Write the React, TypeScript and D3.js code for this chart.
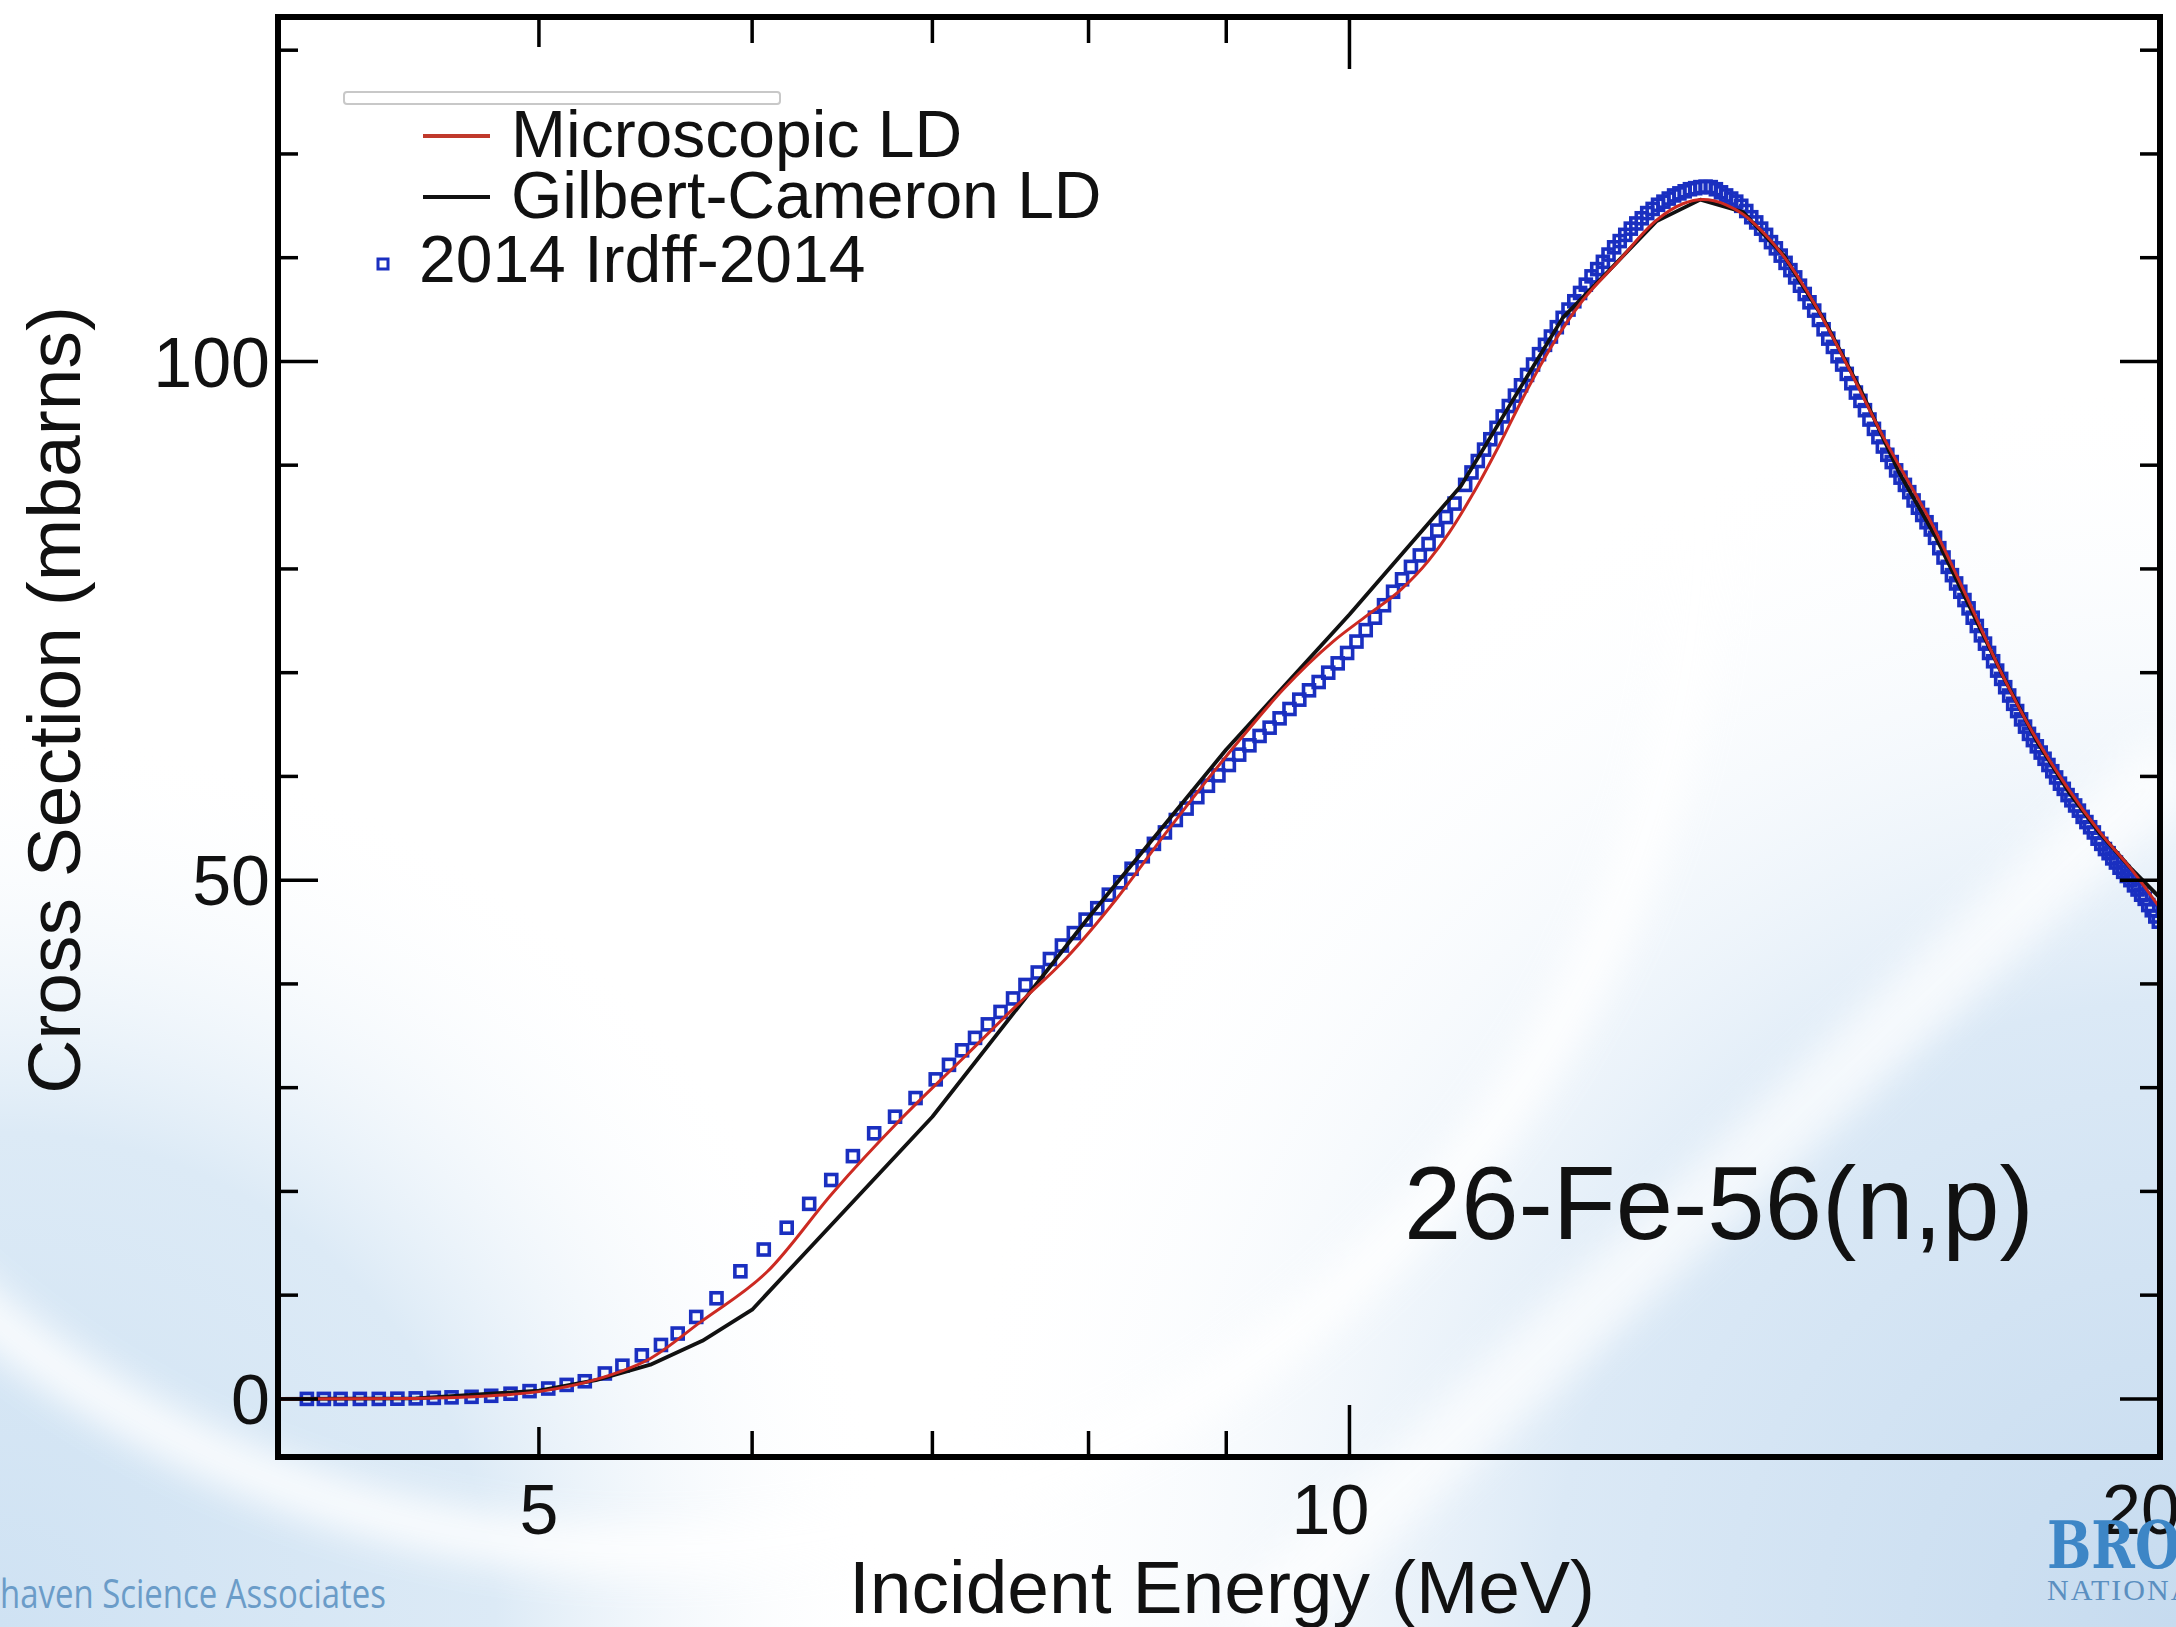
import * as d3 from 'd3'

const W = 2176
const H = 1627

// 2014 IRDFF evaluation (square markers), energies in MeV
const irdffE = [
  4.10, 4.16, 4.22, 4.29, 4.36, 4.43, 4.50, 4.57, 4.64, 4.72, 4.80, 4.88, 4.96, 5.04, 5.12, 5.20,
  5.29, 5.37, 5.46, 5.55, 5.63, 5.72, 5.82, 5.94, 6.06, 6.18, 6.30, 6.42, 6.54, 6.66, 6.78, 6.90,
  7.02, 7.10, 7.18, 7.26, 7.34, 7.42, 7.50, 7.58, 7.66, 7.74, 7.82, 7.90, 7.98, 8.06, 8.14, 8.22,
  8.30, 8.38, 8.46, 8.54, 8.62, 8.70, 8.78, 8.86, 8.94, 9.02, 9.10, 9.18, 9.26, 9.34, 9.42, 9.50,
  9.58, 9.66, 9.74, 9.82, 9.90, 9.98, 10.06, 10.14, 10.22, 10.30, 10.38, 10.46, 10.54, 10.62, 10.70,
  10.78, 10.86, 10.94,
  11.04, 11.10, 11.16, 11.22, 11.28, 11.34, 11.40, 11.46, 11.52, 11.58, 11.64, 11.70, 11.76, 11.82,
  11.88, 11.94, 12.00, 12.06, 12.12, 12.18, 12.24, 12.30, 12.36, 12.42, 12.48, 12.54, 12.60, 12.66,
  12.72, 12.78, 12.84, 12.90, 12.96, 13.02, 13.08, 13.14, 13.20, 13.26, 13.32, 13.38, 13.44,
  13.50, 13.56, 13.62, 13.68, 13.74, 13.80, 13.86, 13.92, 13.98, 14.04, 14.10, 14.16, 14.22, 14.28,
  14.34, 14.40, 14.46, 14.52, 14.58, 14.64, 14.70, 14.76, 14.82, 14.88, 14.94, 15.00, 15.06, 15.12,
  15.18, 15.24, 15.30, 15.36, 15.42, 15.48, 15.54, 15.60, 15.66, 15.72, 15.78, 15.84, 15.90, 15.96,
  16.02, 16.08, 16.14, 16.20, 16.26, 16.32, 16.38, 16.44, 16.50, 16.56, 16.62, 16.68, 16.74, 16.80,
  16.86, 16.92, 16.98, 17.04, 17.10, 17.16, 17.22, 17.28, 17.34, 17.40, 17.46, 17.52, 17.58, 17.64,
  17.70, 17.76, 17.82, 17.88, 17.94, 18.00, 18.06, 18.12, 18.18, 18.24, 18.30, 18.36, 18.42, 18.48,
  18.54, 18.60, 18.66, 18.72, 18.78, 18.84, 18.90, 18.96, 19.02, 19.08, 19.14, 19.20, 19.26, 19.32,
  19.38, 19.44, 19.50, 19.56, 19.62, 19.68, 19.74, 19.80, 19.86, 19.92, 19.98,
]
const irdffXS = [
  0.0, 0.0, 0.0, 0.0, 0.0, 0.02, 0.05, 0.1, 0.15, 0.2, 0.3, 0.5, 0.75, 1.0, 1.35, 1.7,
  2.45, 3.2, 4.2, 5.2, 6.3, 7.9, 9.7, 12.3, 14.4, 16.5, 18.8, 21.1, 23.4, 25.6, 27.2, 29.0,
  30.8, 32.2, 33.6, 34.8, 36.1, 37.3, 38.6, 39.9, 41.1, 42.4, 43.7, 44.9, 46.2, 47.3, 48.6, 49.8,
  51.1, 52.3, 53.5, 54.6, 55.8, 56.9, 58.0, 59.1, 60.1, 61.1, 62.1, 63.0, 63.9, 64.7, 65.6, 66.5,
  67.4, 68.3, 69.1, 70.0, 70.9, 71.9, 73.0, 74.1, 75.3, 76.5, 77.8, 79.0, 80.2, 81.3, 82.4,
  83.7, 85.0, 86.3,
  88.1, 89.3, 90.4, 91.5, 92.5, 93.6, 94.7, 95.7, 96.7, 97.7, 98.7, 99.7, 100.7, 101.6,
  102.4, 103.3, 104.2, 105.0, 105.8, 106.6, 107.4, 108.2, 108.9, 109.6, 110.3, 111.0, 111.6, 112.2,
  112.8, 113.3, 113.8, 114.3, 114.7, 115.1, 115.4, 115.7, 116.0, 116.2, 116.4, 116.6, 116.7,
  116.8, 116.85, 116.8, 116.6, 116.3, 116.0, 115.7, 115.4, 115.0, 114.5, 113.9, 113.4, 112.8, 112.2,
  111.5, 110.9, 110.2, 109.5, 108.8, 108.1, 107.3, 106.5, 105.7, 104.9, 104.0, 103.1, 102.2, 101.4,
  100.5, 99.7, 98.8, 97.9, 97.0, 96.2, 95.3, 94.4, 93.5, 92.7, 91.8, 91.0, 90.3, 89.5,
  88.8, 88.1, 87.4, 86.6, 85.9, 85.2, 84.5, 83.8, 83.0, 82.0, 81.1, 80.2, 79.4, 78.6,
  77.8, 77.0, 76.2, 75.3, 74.5, 73.6, 72.8, 71.9, 71.1, 70.2, 69.4, 68.6, 67.8, 67.0,
  66.3, 65.5, 64.8, 64.1, 63.5, 62.9, 62.3, 61.7, 61.1, 60.5, 59.9, 59.3, 58.8, 58.2,
  57.7, 57.2, 56.7, 56.1, 55.6, 55.1, 54.6, 54.0, 53.5, 53.0, 52.6, 52.1, 51.7, 51.2,
  50.8, 50.4, 50.0, 49.5, 49.1, 48.6, 48.2, 47.6, 47.1, 46.5, 46.0,
]

// Microscopic level density (red)
const microE = [
  4.0, 4.5, 4.8, 5.0, 5.27, 5.5, 5.74, 6.08, 6.43, 6.81, 7.21, 7.5, 7.85, 8.2, 8.55, 8.85, 9.11,
  9.45, 9.86, 10.15, 10.45, 10.7, 10.89, 11.1, 11.37, 11.6, 11.87, 12.2, 12.58, 13.0, 13.3, 13.53,
  13.8, 14.0, 14.25, 14.48, 14.88, 15.33, 15.78, 16.48, 16.96, 17.44, 17.94, 18.47, 19.0, 19.55, 20.0,
]
const microXS = [
  0.0, 0.05, 0.3, 0.7, 2.0, 3.9, 7.4, 12.3, 19.9, 26.9, 33.2, 37.6, 42.5, 48.3, 54.6, 59.6, 63.6,
  68.4, 73.0, 75.5, 78.0, 80.8, 83.5, 87.0, 92.0, 96.5, 101.2, 105.8, 109.6, 113.6, 115.2, 115.6,
  115.1, 114.2, 112.4, 110.3, 105.6, 99.3, 92.8, 84.0, 77.2, 70.3, 64.2, 59.0, 54.6, 50.8, 47.3,
]

// Gilbert-Cameron level density (black)
const gcE = [
  4.0, 4.5, 5.0, 5.25, 5.5, 5.75, 6.0, 7.0, 8.0, 9.0, 10.0, 11.0, 12.0, 12.5, 13.0, 13.5, 14.0,
  14.5, 15.0, 15.5, 16.0, 16.5, 17.0, 17.5, 18.0, 18.5, 19.0, 19.5, 20.0,
]
const gcXS = [
  0.0, 0.05, 0.8, 1.8, 3.3, 5.6, 8.6, 27.2, 46.4, 62.6, 75.6, 88.0, 104.2, 108.9, 113.5, 115.6, 114.4,
  110.2, 104.1, 97.0, 89.3, 83.2, 76.3, 69.5, 63.4, 58.5, 54.5, 51.2, 48.3,
]

const xMajorTicks = [5, 10, 20]
const xMinorTicks = [6, 7, 8, 9]
const yMajorTicks = [0, 50, 100]
const yMinorTicks = [10, 20, 30, 40, 60, 70, 80, 90, 110, 120, 130]
const xTickLabels = ['5', '10', '20']

const legendLabels = ['Microscopic LD', 'Gilbert-Cameron LD', '2014 Irdff-2014']

const FONT = '"Liberation Sans", Arial, Helvetica, sans-serif'

export default function App() {
  const left = 278
  const right = 2160
  const top = 17
  const bottom = 1457

  const x = d3.scaleLog().domain([4, 20]).range([left, right])
  const y = d3.scaleLinear().domain([-5.6, 133.2]).range([bottom, top])

  const irdff = irdffE.map((e, i) => [e, irdffXS[i]] as [number, number])
  const micro = microE.map((e, i) => [e, microXS[i]] as [number, number])
  const gc = gcE.map((e, i) => [e, gcXS[i]] as [number, number])

  const smooth = d3.line<[number, number]>()
    .x(d => x(d[0]))
    .y(d => y(d[1]))
    .curve(d3.curveMonotoneX)
  const straight = d3.line<[number, number]>()
    .x(d => x(d[0]))
    .y(d => y(d[1]))

  const sq = 11
  const xMajLen = 52
  const xMinLen = 26
  const yMajLen = 40
  const yMinLen = 20

  return (
    <svg width={W} height={H} style={{ display: 'block', position: 'absolute', left: 0, top: 0 }}>
      <defs>
        <radialGradient id="blBlue" gradientUnits="userSpaceOnUse" cx={0} cy={H} r={900}>
          <stop offset="0" stopColor="#cfe2f3" />
          <stop offset="0.55" stopColor="#dceaf6" />
          <stop offset="1" stopColor="#ffffff" stopOpacity="0" />
        </radialGradient>
        <radialGradient id="brBlue" gradientUnits="userSpaceOnUse" cx={W} cy={H} r={1250}>
          <stop offset="0" stopColor="#c6dbef" />
          <stop offset="0.5" stopColor="#dbe9f6" />
          <stop offset="1" stopColor="#ffffff" stopOpacity="0" />
        </radialGradient>
        <filter id="soft" x="-20%" y="-20%" width="140%" height="140%">
          <feGaussianBlur stdDeviation="18" />
        </filter>
        <clipPath id="plotClip">
          <rect x={left} y={top} width={right - left} height={bottom - top} />
        </clipPath>
      </defs>

      {/* slide background */}
      <rect x={0} y={0} width={W} height={H} fill="#ffffff" />
      <rect x={0} y={0} width={W} height={H} fill="url(#brBlue)" />
      <rect x={0} y={0} width={W} height={H} fill="url(#blBlue)" />
      <circle cx={650} cy={500} r={1050} fill="none" stroke="#ffffff" strokeWidth={50} opacity={0.85} filter="url(#soft)" />
      <line x1={1250} y1={1627} x2={2176} y2={760} stroke="#ffffff" strokeWidth={70} opacity={0.7} filter="url(#soft)" />

      {/* curves */}
      <g clipPath="url(#plotClip)">
        {irdff.map((d, i) => (
          <rect
            key={i}
            x={x(d[0]) - sq / 2}
            y={y(d[1]) - sq / 2}
            width={sq}
            height={sq}
            fill="none"
            stroke="#1a2fc0"
            strokeWidth={3.6}
          />
        ))}
        <path d={straight(gc) ?? ''} fill="none" stroke="#111" strokeWidth={3.8} strokeLinejoin="round" />
        <path d={smooth(micro) ?? ''} fill="none" stroke="#cc2a22" strokeWidth={3} />
      </g>

      {/* ticks */}
      <g stroke="#000" strokeWidth={3.5}>
        {yMajorTicks.map(t => (
          <g key={'ym' + t}>
            <line x1={left} x2={left + yMajLen} y1={y(t)} y2={y(t)} />
            <line x1={right - yMajLen} x2={right} y1={y(t)} y2={y(t)} />
          </g>
        ))}
        {yMinorTicks.map(t => (
          <g key={'yn' + t}>
            <line x1={left} x2={left + yMinLen} y1={y(t)} y2={y(t)} />
            <line x1={right - yMinLen} x2={right} y1={y(t)} y2={y(t)} />
          </g>
        ))}
        {xMajorTicks.map(t => {
          const len = t === 10 ? xMajLen : xMinLen + 4
          return (
            <g key={'xm' + t}>
              <line x1={x(t)} x2={x(t)} y1={bottom} y2={bottom - len} />
              <line x1={x(t)} x2={x(t)} y1={top} y2={top + len} />
            </g>
          )
        })}
        {xMinorTicks.map(t => (
          <g key={'xn' + t}>
            <line x1={x(t)} x2={x(t)} y1={bottom} y2={bottom - xMinLen} />
            <line x1={x(t)} x2={x(t)} y1={top} y2={top + xMinLen} />
          </g>
        ))}
      </g>

      {/* frame */}
      <rect x={left} y={top} width={right - left} height={bottom - top} fill="none" stroke="#000" strokeWidth={6} />

      {/* tick labels */}
      <g fontFamily={FONT} fontSize={70} fill="#111">
        {yMajorTicks.map(t => (
          <text key={'yl' + t} x={left - 8} y={y(t)} dy="0.36em" textAnchor="end">{t}</text>
        ))}
        {xMajorTicks.map((t, i) => (
          <text
            key={'xl' + t}
            x={x(t) + (xTickLabels[i].length > 1 ? -19 : 0)}
            y={1534}
            textAnchor="middle"
          >
            {xTickLabels[i]}
          </text>
        ))}
      </g>

      {/* axis titles */}
      <text x={1222} y={1613} fontFamily={FONT} fontSize={75} textAnchor="middle" fill="#111">
        Incident Energy (MeV)
      </text>
      <text
        transform="translate(80,700) rotate(-90)"
        fontFamily={FONT}
        fontSize={75}
        textAnchor="middle"
        fill="#111"
      >
        Cross Section (mbarns)
      </text>

      {/* reaction label */}
      <text x={1404} y={1239} fontFamily={FONT} fontSize={103} fill="#111">26-Fe-56(n,p)</text>

      {/* legend */}
      <rect x={344} y={92} width={436} height={12} rx={3} fill="#fff" stroke="#c8c8c8" strokeWidth={2} />
      <line x1={423} x2={490} y1={136} y2={136} stroke="#c0392b" strokeWidth={4} />
      <line x1={423} x2={490} y1={197} y2={197} stroke="#111" strokeWidth={4} />
      <rect x={383 - 5} y={264 - 5} width={10} height={10} fill="none" stroke="#1a2fc0" strokeWidth={3} />
      <g fontFamily={FONT} fontSize={66} fill="#111">
        <text x={511} y={157}>{legendLabels[0]}</text>
        <text x={511} y={218}>{legendLabels[1]}</text>
        <text x={419} y={282}>{legendLabels[2]}</text>
      </g>

      {/* slide footer */}
      <text x={0} y={1608} fontFamily='"Open Sans", "Noto Sans", sans-serif' fontSize={40} fill="#6b9cc8" textLength={386} lengthAdjust="spacingAndGlyphs">
        haven Science Associates
      </text>
      <text x={2047} y={1568} fontFamily='"DejaVu Serif", serif' fontWeight="bold" fontSize={66} fill="#3d86c6" textLength={440} lengthAdjust="spacingAndGlyphs">
        BROOKHAVEN
      </text>
      <text x={2047} y={1600} fontFamily='"Liberation Serif", serif' fontSize={30} fill="#5b8fc0" letterSpacing={2}>
        NATIONAL LABORATORY
      </text>
    </svg>
  )
}
